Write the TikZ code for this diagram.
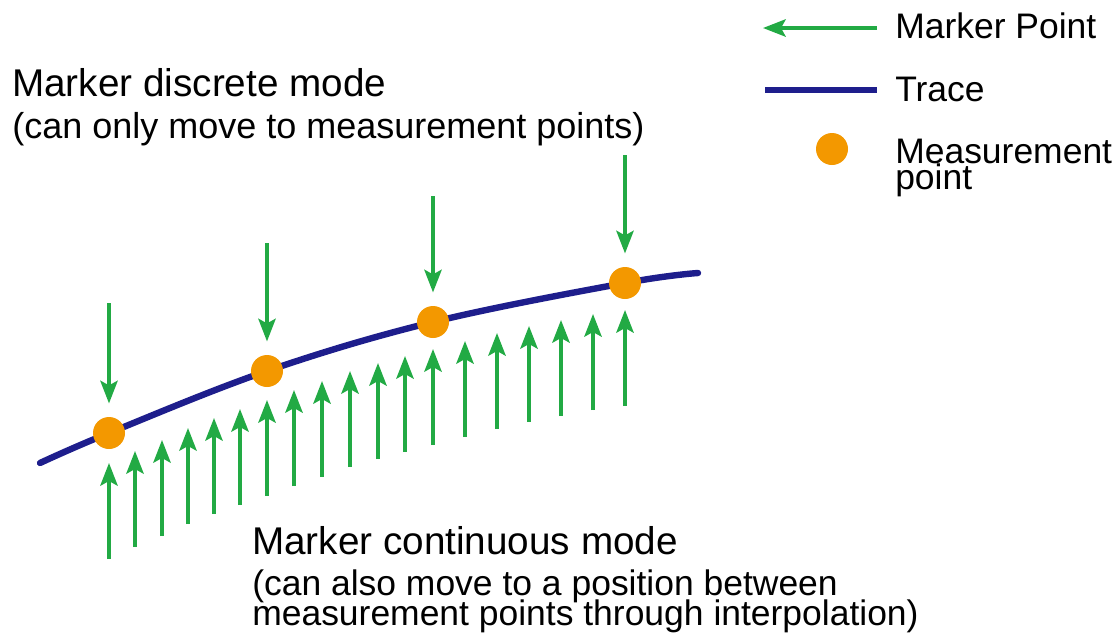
\documentclass[tikz,border=0pt]{standalone}
\usepackage{fontspec}
\setmainfont{Liberation Sans}
\usetikzlibrary{arrows.meta}
\definecolor{mkgreen}{RGB}{34,170,68}
\definecolor{trnavy}{RGB}{30,30,140}
\definecolor{mporange}{RGB}{243,152,0}
\tikzset{
  mkarrow/.style={draw=mkgreen, line width=2.6pt, -{Stealth[length=17pt,width=13pt,inset=3.5pt]}, fill=mkgreen},
  trline/.style={draw=trnavy, line width=4.8pt},
  mpdot/.style={circle, fill=mporange, inner sep=0pt, minimum size=24pt},
  head/.style={anchor=base west, inner sep=0pt, font=\fontsize{29}{34}\selectfont},
  sub/.style={anchor=base west, inner sep=0pt, align=left, font=\fontsize{27}{22.5}\selectfont},
  subb/.style={anchor=base west, inner sep=0pt, align=left, font=\fontsize{26.6}{22.5}\selectfont},
  leg/.style={anchor=base west, inner sep=0pt, align=left, font=\fontsize{26.6}{19}\selectfont},
}
\begin{document}
\begin{tikzpicture}[x=0.75pt,y=-0.75pt]
\useasboundingbox (0,0) rectangle (1117,637);
% trace
\draw[trline, line cap=round] plot[smooth, tension=0.6] coordinates {(40,463) (109,433) (267,371) (433,322) (625,283) (698,273)};
% measurement points
\node[mpdot] (m1) at (109,433) {};
\node[mpdot] (m2) at (267,371) {};
\node[mpdot] (m3) at (433,322) {};
\node[mpdot] (m4) at (625,283) {};
% discrete markers
\coordinate (d1) at (109,303);
\coordinate (d2) at (267,243);
\coordinate (d3) at (433,196);
\coordinate (d4) at (625,155);
\draw[mkarrow] (d1) -- ([yshift=10pt]m1.north);
\draw[mkarrow] (d2) -- ([yshift=10pt]m2.north);
\draw[mkarrow] (d3) -- ([yshift=10pt]m3.north);
\draw[mkarrow] (d4) -- ([yshift=10pt]m4.north);
% continuous markers
\foreach \x/\t [count=\i] in {109/463,135/451,162/440,188/428,214/418,240/409,267/400,294/390,322/381,350/371,378/363,405/356,433/349,465/341,497/333,529/326,561/320,593/314,625/310}{
  \coordinate (cb\i) at (\x,\t+96);
  \coordinate (ct\i) at (\x,\t);
  \draw[mkarrow] (cb\i) -- (ct\i);
}
% texts
\node[head] (h1) at (12,96) {Marker discrete mode};
\node[sub] (s1) at (12,138) {(can only move to measurement points)};
\node[head] (h2) at (252,554) {Marker continuous mode};
\node[subb] (s2) at (252,595) {(can also move to a position between};
\node[subb] (s3) at (252,625) {measurement points through interpolation)};
% legend
\coordinate (la1) at (877,28);
\coordinate (la2) at (763,28);
\draw[mkarrow] (la1) -- (la2);
\node[leg] (l1) at (895,38) {Marker Point};
\coordinate (lt1) at (765,90);
\coordinate (lt2) at (877,90);
\draw[trline] (lt1) -- (lt2);
\node[leg] (l2) at (895,101) {Trace};
\node[mpdot] (ld) at (832,149) {};
\node[leg] (l3) at (895,163) {Measurement};
\node[leg] (l4) at (895,189) {point};
\end{tikzpicture}
\end{document}
